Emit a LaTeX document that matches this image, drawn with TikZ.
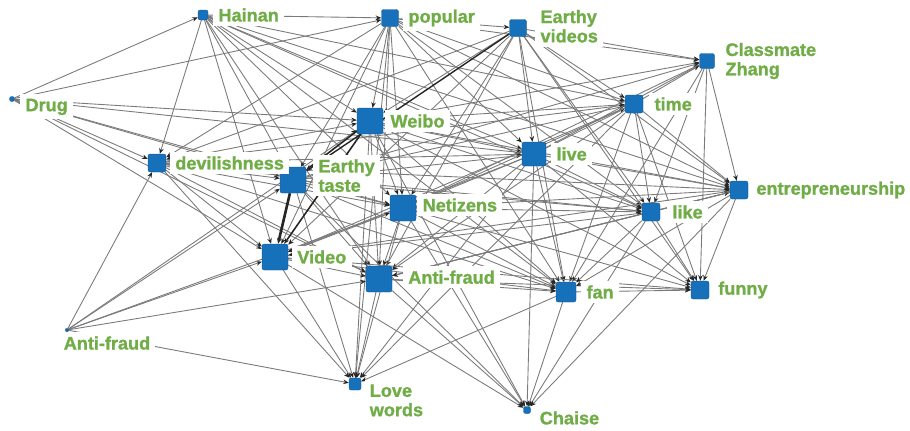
\documentclass[tikz,border=0pt]{standalone}
\usepackage{fontspec}
\newfontfamily\labelfont[BoldFeatures={FakeBold=1.2}]{Liberation Sans}
\usetikzlibrary{arrows.meta, positioning, backgrounds}
\definecolor{hubblue}{RGB}{22,112,186}
\definecolor{lblgreen}{RGB}{112,173,71}
\tikzset{
  hub/.style={fill=hubblue, draw=hubblue!75!black, line width=0.2pt, rounded corners=1.2pt, inner sep=0pt, minimum size=#1},
  lbl/.style={fill=white, text=lblgreen, font=\labelfont\bfseries\fontsize{10.3}{11}\selectfont, align=left, inner xsep=3pt, inner ysep=2.5pt},
  link/.style={draw=black!52, line width=0.5pt, -{Stealth[length=3.2pt,width=2.6pt,black!85]}},
  heavy/.style={link, draw=black!85, line width=#1},
}

\begin{document}
\begin{tikzpicture}[x=0.02cm, y=-0.02cm]
  \useasboundingbox (0,0) rectangle (910,430);
  % hubs
  \node[hub=0.2cm]  (hai)    at (203,15)  {};
  \node[hub=0.34cm] (pop)    at (390,18)  {};
  \node[hub=0.34cm] (evid)   at (518,28)  {};
  \node[hub=0.3cm]  (zhang)  at (707,61)  {};
  \node[hub=0.1cm]  (drug)   at (12,99)   {};
  \node[hub=0.36cm] (time)   at (634,104) {};
  \node[hub=0.52cm] (weibo)  at (370,121) {};
  \node[hub=0.48cm] (live)   at (534,154) {};
  \node[hub=0.36cm] (devil)  at (157,163) {};
  \node[hub=0.52cm] (etaste) at (293,180) {};
  \node[hub=0.36cm] (entre)  at (739,190) {};
  \node[hub=0.52cm] (neti)   at (403,208) {};
  \node[hub=0.36cm] (like)   at (651,212) {};
  \node[hub=0.52cm] (video)  at (275,257) {};
  \node[hub=0.52cm] (afm)    at (379,279) {};
  \node[hub=0.4cm]  (fan)    at (566,292) {};
  \node[hub=0.36cm] (funny)  at (700,290) {};
  \node[hub=0.06cm] (afl)    at (67,330)  {};
  \node[hub=0.24cm] (love)   at (355,384) {};
  \node[hub=0.14cm] (chaise) at (527,410) {};
  % labels
  \node[lbl, right=2.7pt of hai] (hail) {Hainan};
  \node[lbl, right=2.4pt of pop] (popl) {popular};
  \node[lbl, right=4.7pt of evid, yshift=1pt] (evidl) {Earthy\\videos};
  \node[lbl, right=3pt of zhang] (zhangl) {Classmate\\Zhang};
  \node[lbl, right=3pt of drug, yshift=-4.5pt] (drugl) {Drug};
  \node[lbl, right=3.3pt of time] (timel) {time};
  \node[lbl, right=1pt of weibo] (weibol) {Weibo};
  \node[lbl, right=2.7pt of live] (livel) {live};
  \node[lbl, right=2pt of devil] (devill) {devilishness};
  \node[lbl, right=3.8pt of etaste, yshift=2.5pt] (etastel) {Earthy\\taste};
  \node[lbl, right=1.5pt of entre] (entrel) {entrepreneurship};
  \node[lbl, right=0.5pt of neti, yshift=1.7pt] (netil) {Netizens};
  \node[lbl, right=3.8pt of like] (likel) {like};
  \node[lbl, right=2pt of video] (videol) {Video};
  \node[lbl, right=6pt of afm, yshift=1pt] (afml) {Anti-fraud};
  \node[lbl, right=2.7pt of fan] (fanl) {fan};
  \node[lbl, right=2pt of funny] (funnyl) {funny};
  \node[lbl, below right=0pt and -6pt of afl] (afll) {Anti-fraud};
  \node[lbl, below right=-6pt and 1.7pt of love] (lovel) {Love\\words};
  \node[lbl, right=2pt of chaise, yshift=-4.5pt] (chaisel) {Chaise};
  % links
  \begin{scope}[on background layer]
    \foreach \a/\b in {drug/hai, drug/pop, drug/weibo, drug/devil, drug/etaste, drug/neti, drug/video, drug/afm, drug/live,
      hai/pop, hai/devil, hai/weibo, hai/etaste, hai/neti, hai/live, hai/time, hai/like, hai/afm, hai/fan, hai/entre, hai/video,
      pop/evid, pop/weibo, pop/etaste, pop/video, pop/neti, pop/live, pop/time, pop/zhang, pop/entre, pop/afm, pop/like, pop/fan, pop/devil, pop/love,
      evid/weibo, evid/neti, evid/live, evid/time, evid/zhang, evid/like, evid/entre, evid/fan, evid/video, evid/devil, evid/funny, evid/afm,
      devil/etaste, devil/video, devil/weibo, devil/neti, devil/live, devil/afm, devil/fan, devil/love, devil/like, devil/time, devil/entre,
      weibo/neti, weibo/live, weibo/time, weibo/zhang, weibo/like, weibo/entre, weibo/fan, weibo/afm, weibo/funny, weibo/love, weibo/chaise,
      etaste/neti, etaste/afm, etaste/live, etaste/love, etaste/time, etaste/zhang, etaste/fan, etaste/chaise, etaste/like,
      live/neti, live/like, live/entre, live/fan, live/funny, live/afm, live/video, live/love, live/chaise, live/time, live/zhang,
      time/zhang, time/entre, time/like, time/funny, time/fan, time/neti, time/video, time/afm, time/love,
      zhang/entre, zhang/like, zhang/funny, zhang/fan, zhang/neti,
      neti/afm, neti/fan, neti/funny, neti/like, neti/love, neti/chaise, neti/video, neti/entre,
      video/afm, video/love, video/fan, video/chaise, video/funny, video/like,
      afm/fan, afm/love, afm/chaise, afm/funny, afm/entre,
      like/entre, like/funny, like/fan, like/afm, like/chaise,
      entre/funny, entre/fan, entre/chaise, entre/afm, entre/video,
      fan/funny, fan/chaise, fan/love,
      afl/devil, afl/etaste, afl/weibo, afl/video, afl/afm, afl/love, afl/neti}
      \draw[link] (\a) -- (\b);
    \draw[heavy=1.5pt] (etaste) -- (video);
    \draw[heavy=0.9pt] (weibo) -- (etaste);
    \draw[heavy=0.9pt] (weibo) -- (video);
    \draw[heavy=0.8pt] (evid) -- (etaste);
  \end{scope}
\end{tikzpicture}
\end{document}
